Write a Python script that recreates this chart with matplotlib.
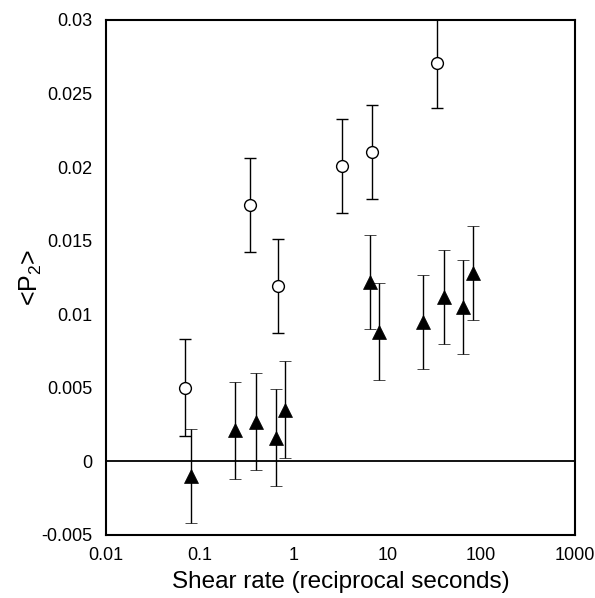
import matplotlib
matplotlib.use("Agg")
import matplotlib.pyplot as plt

# ── Data ──────────────────────────────────────────────────────────────────────
circ_x   = [0.070, 0.34, 0.69, 3.3, 6.8, 34.0]
circ_y   = [0.0050, 0.0174, 0.0119, 0.0201, 0.0210, 0.0271]
circ_err = [0.0033, 0.0032, 0.0032, 0.0032, 0.0032, 0.0031]

tri_x   = [0.081, 0.24, 0.40, 0.65, 0.82, 6.5, 8.2, 24.0, 40.0, 64.0, 82.0]
tri_y   = [-0.0010, 0.0021, 0.0027, 0.0016, 0.0035,
           0.0122, 0.0088, 0.0095, 0.0112, 0.0105, 0.0128]
tri_err = [0.0032, 0.0033, 0.0033, 0.0033, 0.0033,
           0.0032, 0.0033, 0.0032, 0.0032, 0.0032, 0.0032]

x_ticks  = [0.01, 0.1, 1, 10, 100, 1000]
x_labels = ["0.01", "0.1", "1", "10", "100", "1000"]
y_ticks  = [-0.005, 0, 0.005, 0.01, 0.015, 0.02, 0.025, 0.03]
y_labels = ["-0.005", "0", "0.005", "0.01", "0.015", "0.02", "0.025", "0.03"]

plt.rcParams["font.family"] = ["Liberation Sans", "DejaVu Sans"]
plt.rcParams["mathtext.fontset"] = "custom"
plt.rcParams["mathtext.rm"] = "Liberation Sans"

fig = plt.figure(figsize=(5.95, 5.98), dpi=100, facecolor="white")
ax = fig.add_axes([0.178, 0.1054, 0.788, 0.8612])

ax.set_xscale("log")
ax.set_xlim(0.01, 1000)
ax.set_ylim(-0.005, 0.03)

ax.axhline(0, color="black", lw=1.3, zorder=1)

ax.errorbar(circ_x, circ_y, yerr=circ_err, fmt="o", ms=8.5,
            mfc="white", mec="black", mew=1.0,
            ecolor="black", elinewidth=1.0, capsize=4.5, capthick=1.0,
            zorder=3)
ax.errorbar(tri_x, tri_y, yerr=tri_err, fmt="^", ms=9.5,
            mfc="black", mec="black", mew=0.5,
            ecolor="black", elinewidth=1.0, capsize=4.5, capthick=1.0,
            zorder=3)

ax.set_xticks(x_ticks)
ax.set_xticklabels(x_labels)
ax.xaxis.set_minor_locator(matplotlib.ticker.NullLocator())
ax.set_yticks(y_ticks)
ax.set_yticklabels(y_labels)
ax.tick_params(length=0, labelsize=13, pad=9)
ax.tick_params(axis="y", pad=10)

for spine in ax.spines.values():
    spine.set_linewidth(1.5)

ax.set_xlabel("Shear rate (reciprocal seconds)", fontsize=17.5, labelpad=5)
ax.set_ylabel(r"<P$\mathregular{_2}$>", fontsize=18, labelpad=-2)

fig.savefig("out.png", dpi=100, facecolor="white")
